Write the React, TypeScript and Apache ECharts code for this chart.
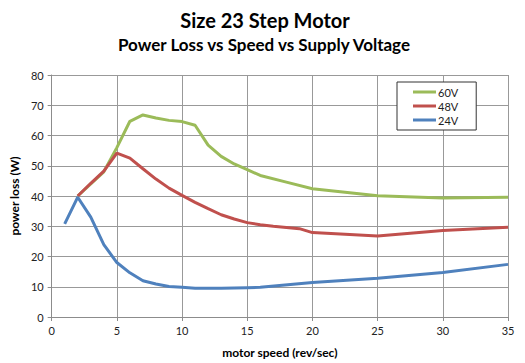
import React, { useEffect, useRef } from "react";
import * as echarts from "echarts";

const xTicks = [0, 5, 10, 15, 20, 25, 30, 35];
const speed60 = [2, 3, 4, 5, 6, 7, 8, 9, 10, 11, 12, 13, 14, 15, 16, 18, 20, 25, 30, 35];
const loss60 = [40, 44, 48, 56, 64.7, 66.8, 65.8, 65, 64.6, 63.4, 56.8, 53.1, 50.6, 48.7, 46.8, 44.6, 42.4, 40.1, 39.3, 39.6];
const speed48 = [2, 3, 4, 5, 6, 7, 8, 9, 10, 11, 12, 13, 14, 15, 16, 17, 18, 19, 20, 25, 30, 35];
const loss48 = [40, 44.2, 48.2, 54.2, 52.5, 49, 45.6, 42.6, 40.2, 37.9, 35.8, 33.8, 32.4, 31.2, 30.5, 30, 29.6, 29.2, 27.9, 26.8, 28.6, 29.7];
const speed24 = [1, 2, 3, 4, 5, 6, 7, 8, 9, 10, 11, 12, 13, 14, 15, 16, 20, 25, 30, 35];
const loss24 = [30.8, 39.6, 33, 23.9, 18, 14.6, 12, 10.9, 10.1, 9.8, 9.5, 9.5, 9.5, 9.6, 9.7, 9.8, 11.4, 12.8, 14.7, 17.4];
const seriesNames = ["60V", "48V", "24V"];
const colors = ["#9BBB59", "#C0504D", "#4F81BD"];

const zip = (xs: number[], ys: number[]) => xs.map((x, i) => [x, ys[i]]);

export default function App() {
  const ref = useRef<HTMLDivElement>(null);
  useEffect(() => {
    if (!ref.current) return;
    const chart = echarts.init(ref.current, null, { renderer: "svg" });
    const font = "Lato, 'Open Sans', sans-serif";
    const datas = [zip(speed60, loss60), zip(speed48, loss48), zip(speed24, loss24)];
    chart.setOption({
      animation: false,
      backgroundColor: "#ffffff",
      title: [
        {
          text: "Size 23 Step Motor",
          left: 260,
          top: 5,
          textAlign: "center",
          textStyle: { fontFamily: font, fontSize: 20, fontWeight: "bold", color: "#000" },
        },
        {
          text: "Power Loss vs Speed vs Supply Voltage",
          left: 259,
          top: 31,
          textAlign: "center",
          textStyle: { fontFamily: font, fontSize: 17, fontWeight: "bold", color: "#000" },
        },
      ],
      legend: {
        data: seriesNames,
        orient: "vertical",
        left: 397,
        top: 82,
        padding: [4, 18, 4, 16],
        itemGap: 2,
        itemWidth: 23,
        itemHeight: 3,
        icon: "rect",
        borderColor: "#333",
        borderWidth: 1,
        backgroundColor: "#fff",
        textStyle: { fontFamily: font, fontSize: 11, color: "#222", lineHeight: 12, padding: [0, 0, 0, -3] },
      },
      grid: { left: 51, right: 17, top: 75, bottom: 46, containLabel: false },
      xAxis: {
        type: "value",
        min: xTicks[0],
        max: xTicks[xTicks.length - 1],
        interval: 5,
        name: "motor speed (rev/sec)",
        nameLocation: "middle",
        nameGap: 29,
        nameTextStyle: { fontFamily: font, fontSize: 12, fontWeight: "bold", color: "#000" },
        axisLine: { show: true, lineStyle: { color: "#8c8c8c" } },
        axisTick: { show: true, length: 4, lineStyle: { color: "#8c8c8c" } },
        axisLabel: { fontFamily: font, fontSize: 11, color: "#222", margin: 8 },
        splitLine: { show: true, lineStyle: { color: "#999", width: 1 } },
      },
      yAxis: {
        type: "value",
        min: 0,
        max: 80,
        interval: 10,
        name: "power loss (W)",
        nameLocation: "middle",
        nameGap: 31,
        nameTextStyle: { fontFamily: font, fontSize: 12, fontWeight: "bold", color: "#000" },
        axisLine: { show: true, lineStyle: { color: "#8c8c8c" } },
        axisTick: { show: true, length: 4, lineStyle: { color: "#8c8c8c" } },
        axisLabel: { fontFamily: font, fontSize: 11, color: "#222", margin: 8 },
        splitLine: { show: true, lineStyle: { color: "#999", width: 1 } },
      },
      series: seriesNames.map((name, i) => ({
        name,
        type: "line",
        data: datas[i],
        showSymbol: false,
        symbol: "none",
        color: colors[i],
        lineStyle: { color: colors[i], width: 3 },
        itemStyle: { color: colors[i] },
      })),
    });
    return () => chart.dispose();
  }, []);
  return <div ref={ref} style={{ width: 525, height: 363, position: "absolute", left: 0, top: 0 }} />;
}
